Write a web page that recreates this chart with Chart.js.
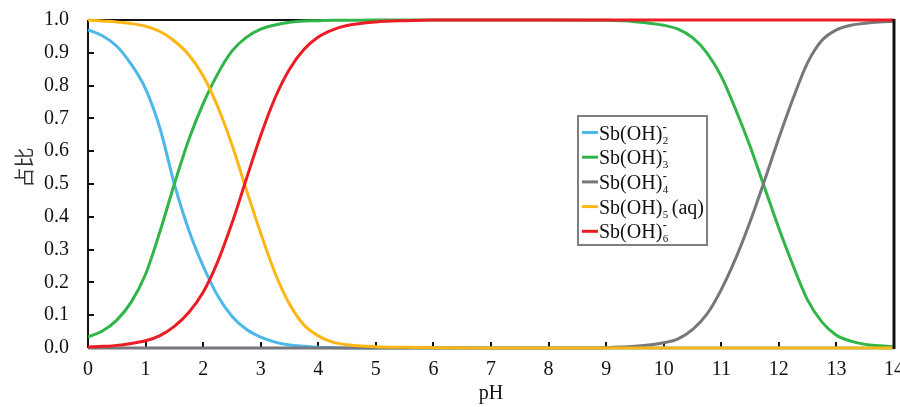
<!DOCTYPE html>
<html>
<head>
<meta charset="utf-8">
<script src="https://cdn.jsdelivr.net/npm/chart.js@4.4.1/dist/chart.umd.min.js"></script>
<style>
  html, body { margin: 0; padding: 0; background: #ffffff; }
  #wrap { width: 900px; height: 407px; }
</style>
</head>
<body>
<div id="wrap"><canvas id="chart"></canvas></div>
<script>
const phValues = [0, 0.25, 0.5, 0.75, 1, 1.25, 1.5, 1.75, 2, 2.25, 2.5, 2.75, 3, 3.25, 3.5, 3.75, 4, 4.25, 4.5,
    5, 5.5, 6, 7, 8, 9, 9.5,
    10, 10.25, 10.5, 10.75, 11, 11.25, 11.5, 11.75, 12, 12.25, 12.5, 12.75, 13, 13.25, 13.5, 13.75, 14];

const sbOH2 = [0.97, 0.952, 0.92, 0.865, 0.79, 0.67, 0.50, 0.36, 0.25, 0.16, 0.097, 0.057, 0.033, 0.018, 0.009, 0.005, 0.002, 0.001, 0,
    0, 0, 0, 0, 0, 0, 0,
    0, 0, 0, 0, 0, 0, 0, 0, 0, 0, 0, 0, 0, 0, 0, 0, 0];
const sbOH3 = [0.034, 0.052, 0.085, 0.14, 0.225, 0.355, 0.50, 0.635, 0.745, 0.835, 0.905, 0.947, 0.972, 0.985, 0.993, 0.997, 0.998, 0.999, 0.999,
    1, 1, 1, 1, 1, 0.999, 0.995,
    0.984, 0.972, 0.946, 0.9, 0.828, 0.727, 0.615, 0.49, 0.365, 0.25, 0.146, 0.079, 0.039, 0.021, 0.011, 0.007, 0.004];
const sbOH4 = [0, 0, 0, 0, 0, 0, 0, 0, 0, 0, 0, 0, 0, 0, 0, 0, 0, 0, 0,
    0, 0, 0, 0, 0, 0.001, 0.005,
    0.016, 0.028, 0.056, 0.103, 0.178, 0.273, 0.385, 0.51, 0.64, 0.762, 0.87, 0.938, 0.97, 0.984, 0.99, 0.994, 0.996];
const sbOH5 = [1.0, 0.997, 0.994, 0.989, 0.981, 0.965, 0.936, 0.894, 0.83, 0.737, 0.62, 0.483, 0.35, 0.228, 0.134, 0.07, 0.037, 0.018, 0.01,
    0.004, 0.002, 0.001, 0, 0, 0, 0,
    0, 0, 0, 0, 0, 0, 0, 0, 0, 0, 0, 0, 0, 0, 0, 0, 0];
const sbOH6 = [0.003, 0.005, 0.008, 0.014, 0.022, 0.038, 0.066, 0.108, 0.17, 0.262, 0.38, 0.515, 0.648, 0.763, 0.85, 0.91, 0.948, 0.97, 0.983,
    0.994, 0.998, 1, 1, 1, 1, 1,
    1, 1, 1, 1, 1, 1, 1, 1, 1, 1, 1, 1, 1, 1, 1, 1, 1];

const xTicks = [0, 1, 2, 3, 4, 5, 6, 7, 8, 9, 10, 11, 12, 13, 14];
const yTicks = [0, 0.1, 0.2, 0.3, 0.4, 0.5, 0.6, 0.7, 0.8, 0.9, 1.0];

// legend pieces: base text, subscript, superscript, trailing text
const legendBase = ['Sb(OH)', 'Sb(OH)', 'Sb(OH)', 'Sb(OH)', 'Sb(OH)'];
const legendSub = ['2', '3', '4', '5', '6'];
const legendSup = ['-', '-', '-', '', '-'];
const legendTail = ['', '', '', '(aq)', ''];

const colors = ['#4cb8ea', '#30b548', '#77767c', '#fdb614', '#ec1c24'];
const series = [sbOH2, sbOH3, sbOH4, sbOH5, sbOH6];
const drawOrder = [4, 3, 2, 1, 0];

const serif = '"Liberation Serif", "DejaVu Serif", serif';

function toPoints(values) {
    return values.map((v, i) => ({ x: phValues[i], y: v }));
}

const framePlugin = {
    id: 'frame',
    beforeDatasetsDraw(chart) {
        const { ctx, chartArea: a, scales } = chart;
        ctx.save();
        // ticks pointing inward
        ctx.strokeStyle = '#111';
        ctx.lineWidth = 2;
        yTicks.forEach((t) => {
            const y = Math.round(scales.y.getPixelForValue(t));
            ctx.beginPath();
            ctx.moveTo(a.left, y);
            ctx.lineTo(a.left + 6, y);
            ctx.stroke();
        });
        xTicks.forEach((t) => {
            const x = Math.round(scales.x.getPixelForValue(t));
            ctx.beginPath();
            ctx.moveTo(x, a.bottom);
            ctx.lineTo(x, a.bottom - 6);
            ctx.stroke();
        });
        ctx.beginPath();
        ctx.moveTo(a.left, a.top);
        ctx.lineTo(a.right, a.top);
        ctx.moveTo(a.left, a.top);
        ctx.lineTo(a.left, a.bottom);
        ctx.stroke();
        ctx.strokeStyle = '#808080';
        ctx.beginPath();
        ctx.moveTo(a.left, a.bottom);
        ctx.lineTo(a.right, a.bottom);
        ctx.stroke();

        // y axis title, drawn by hand so it can sit a bit above centre like the original
        ctx.translate(24, a.top + (a.bottom - a.top) * 0.45);
        ctx.rotate(-Math.PI / 2);
        ctx.fillStyle = '#333';
        ctx.font = '20px "Noto Sans CJK SC", sans-serif';
        ctx.textAlign = 'center';
        ctx.textBaseline = 'middle';
        ctx.fillText('占比', 0, 0);
        ctx.restore();
    },
    afterDatasetsDraw(chart) {
        const { ctx, chartArea: a } = chart;
        ctx.save();
        ctx.strokeStyle = '#111';
        ctx.lineWidth = 3;
        ctx.beginPath();
        ctx.moveTo(a.right, a.top - 1);
        ctx.lineTo(a.right, a.bottom + 1);
        ctx.stroke();
        ctx.restore();
    }
};

const legendPlugin = {
    id: 'speciesLegend',
    afterDraw(chart) {
        const { ctx } = chart;
        const box = { x: 578, y: 116, w: 129, h: 129 };
        ctx.save();
        ctx.fillStyle = '#ffffff';
        ctx.fillRect(box.x, box.y, box.w, box.h);
        ctx.strokeStyle = '#7f7f7f';
        ctx.lineWidth = 2;
        ctx.strokeRect(box.x, box.y, box.w, box.h);

        legendBase.forEach((base, i) => {
            const cy = box.y + 16.5 + i * 24.7;
            ctx.strokeStyle = colors[i];
            ctx.lineWidth = 3;
            ctx.beginPath();
            ctx.moveTo(box.x + 4, cy);
            ctx.lineTo(box.x + 20, cy);
            ctx.stroke();

            const baseline = cy + 7;
            let x = box.x + 21;
            ctx.fillStyle = '#111';
            ctx.textBaseline = 'alphabetic';
            ctx.textAlign = 'left';
            ctx.font = '20px ' + serif;
            ctx.fillText(base, x, baseline);
            x += ctx.measureText(base).width;

            ctx.font = '11px ' + serif;
            ctx.fillText(legendSub[i], x + 0.5, baseline + 4);
            let w = ctx.measureText(legendSub[i]).width;
            if (legendSup[i]) {
                ctx.font = 'bold 12px ' + serif;
                ctx.fillText(legendSup[i], x + 0.5, baseline - 9);
                w = Math.max(w, ctx.measureText(legendSup[i]).width);
            }
            x += w + 4;
            if (legendTail[i]) {
                ctx.font = '20px ' + serif;
                ctx.fillText(legendTail[i], x, baseline);
            }
        });
        ctx.restore();
    }
};

const ctx = document.getElementById('chart').getContext('2d');

new Chart(ctx, {
    type: 'line',
    data: {
        datasets: series.map((values, i) => ({
            label: legendBase[i] + legendSub[i] + legendSup[i] + legendTail[i],
            data: toPoints(values),
            borderColor: colors[i],
            backgroundColor: colors[i],
            borderWidth: 3,
            pointRadius: 0,
            cubicInterpolationMode: 'monotone',
            fill: false,
            clip: 4,
            order: drawOrder[i]
        }))
    },
    options: {
        responsive: true,
        maintainAspectRatio: false,
        animation: false,
        layout: {
            padding: { top: 20, right: 6, bottom: 0, left: 0 }
        },
        plugins: {
            legend: { display: false },
            tooltip: { enabled: false }
        },
        scales: {
            x: {
                type: 'linear',
                min: 0,
                max: 14,
                grid: { display: false, drawTicks: false },
                border: { display: false },
                afterBuildTicks: (scale) => {
                    scale.ticks = xTicks.map((v) => ({ value: v }));
                },
                afterFit: (scale) => {
                    scale.height = 59;
                    scale.paddingLeft = 0;
                    scale.paddingRight = 0;
                },
                ticks: {
                    color: '#111',
                    padding: 10,
                    maxRotation: 0,
                    autoSkip: false,
                    font: { family: serif, size: 20 }
                },
                title: {
                    display: true,
                    text: 'pH',
                    color: '#111',
                    padding: { top: 0, bottom: 1 },
                    font: { family: serif, size: 20 }
                }
            },
            y: {
                min: 0,
                max: 1,
                grid: { display: false, drawTicks: false },
                border: { display: false },
                afterBuildTicks: (scale) => {
                    scale.ticks = yTicks.map((v) => ({ value: v }));
                },
                afterFit: (scale) => {
                    scale.width = 88;
                    scale.paddingTop = 0;
                    scale.paddingBottom = 0;
                },
                ticks: {
                    color: '#111',
                    padding: 19,
                    autoSkip: false,
                    callback: (v) => Number(v).toFixed(1),
                    font: { family: serif, size: 20 }
                },
                title: { display: false }
            }
        }
    },
    plugins: [framePlugin, legendPlugin]
});
</script>
</body>
</html>
